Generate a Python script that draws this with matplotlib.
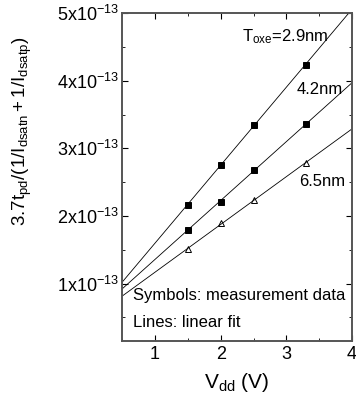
import matplotlib
matplotlib.use("Agg")
import matplotlib.pyplot as plt
import numpy as np
from matplotlib.ticker import MultipleLocator, FuncFormatter

plt.rcParams['font.family'] = ['Liberation Sans', 'DejaVu Sans']
plt.rcParams['mathtext.fontset'] = 'custom'
plt.rcParams['mathtext.rm'] = 'Liberation Sans'
plt.rcParams['mathtext.it'] = 'Liberation Sans'

vdd = [1.5, 2.0, 2.5, 3.3]
t29 = [2.16e-13, 2.76e-13, 3.35e-13, 4.24e-13]   # Toxe = 2.9 nm
t42 = [1.80e-13, 2.21e-13, 2.68e-13, 3.36e-13]   # Toxe = 4.2 nm
t65 = [1.51e-13, 1.89e-13, 2.23e-13, 2.79e-13]   # Toxe = 6.5 nm

fig = plt.figure(figsize=(3.56, 4.04), dpi=100)
ax = fig.add_axes([0.343, 0.156, 0.646, 0.811])

xfit = np.array([0.5, 4.0])
for ys, mk, fc in [(t29, 's', 'black'), (t42, 's', 'black'), (t65, '^', 'none')]:
    p = np.polyfit(vdd, ys, 1)
    ax.plot(xfit, np.polyval(p, xfit), color='black', lw=0.6)
    ax.plot(vdd, ys, mk, ms=4 if mk == 's' else 4.5, mfc=fc, mec='black', mew=0.7)

ax.set_xlim(0.5, 4)
ax.set_ylim(0.15e-13, 5e-13)
ax.xaxis.set_major_locator(MultipleLocator(1))
ax.xaxis.set_minor_locator(MultipleLocator(0.5))
ax.yaxis.set_major_locator(MultipleLocator(1e-13))
ax.yaxis.set_minor_locator(MultipleLocator(0.5e-13))
ax.yaxis.set_major_formatter(FuncFormatter(lambda v, pos: r'$\mathregular{%dx10^{-13}}$' % round(v / 1e-13)))
ax.tick_params(which='both', direction='in', top=True, right=True, labelsize=13)
ax.tick_params(axis='y', which='major', pad=2)
ax.tick_params(which='major', length=4)
ax.tick_params(which='minor', length=2.5)
for s in ax.spines.values():
    s.set_linewidth(1.4)
    s.set_color('#555555')

ax.set_xlabel(r'$\mathregular{V_{dd}}$ (V)', fontsize=15, labelpad=6)
ax.set_ylabel(r'$\mathregular{3.7t_{pd}/(1/I_{dsatn}+1/I_{dsatp})}$', fontsize=13.5)
ax.yaxis.set_label_coords(-0.385, 0.64)

ax.text(2.33, 4.58e-13, r'$\mathregular{T_{oxe}}$=2.9nm', fontsize=12)
ax.text(3.16, 3.8e-13, '4.2nm', fontsize=12)
ax.text(3.2, 2.45e-13, '6.5nm', fontsize=12)
ax.text(0.66, 0.75e-13, 'Symbols: measurement data', fontsize=12)
ax.text(0.66, 0.36e-13, 'Lines: linear fit', fontsize=12)

fig.savefig('out.png', dpi=100)
